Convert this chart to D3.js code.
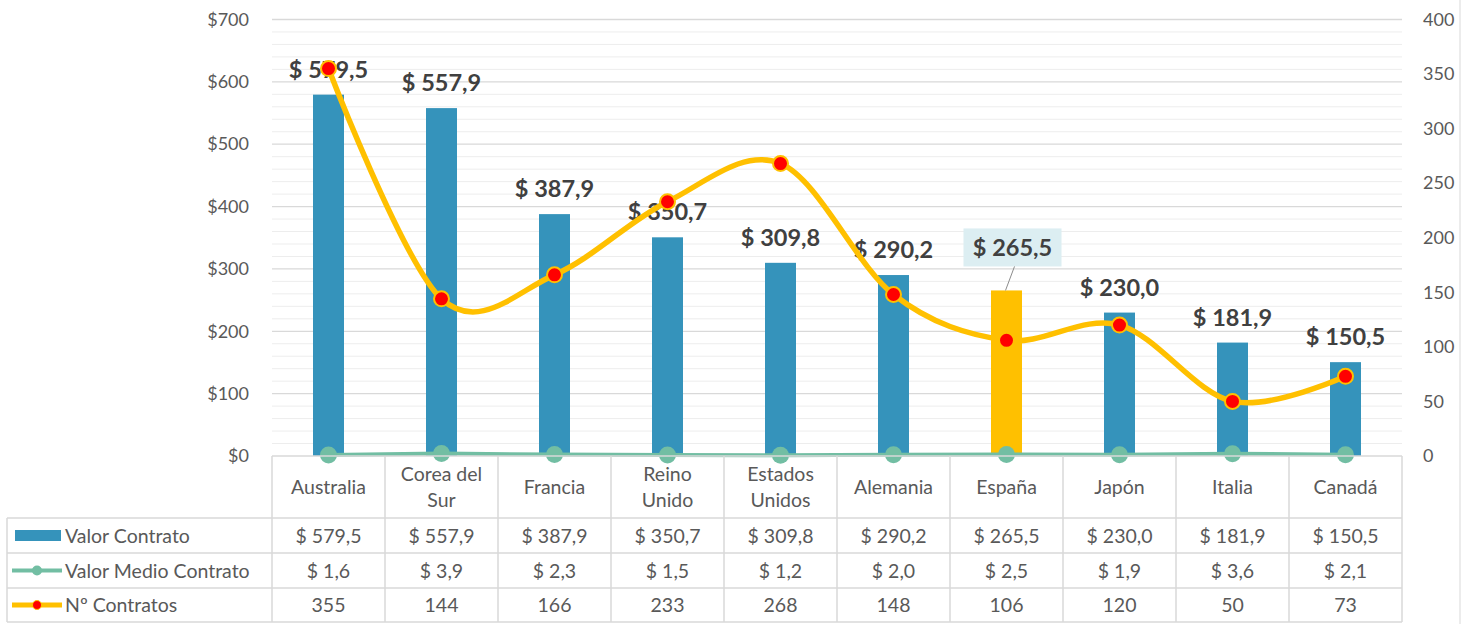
<!DOCTYPE html>
<html>
<head>
<meta charset="utf-8">
<script src="https://cdn.jsdelivr.net/npm/d3@7"></script>
<style>
  body { margin: 0; background: #fff; }
  svg text { font-family: Lato, "Open Sans", sans-serif; }
</style>
</head>
<body>
<svg id="chart" width="1466" height="624"></svg>
<script>
// ─── Data ──────────────────────────────────────────────────────────────────
const countries   = ["Australia", "Corea del Sur", "Francia", "Reino Unido", "Estados Unidos",
                     "Alemania", "España", "Japón", "Italia", "Canadá"];
const countryLines = [["Australia"], ["Corea del", "Sur"], ["Francia"], ["Reino", "Unido"],
                      ["Estados", "Unidos"], ["Alemania"], ["España"], ["Japón"], ["Italia"], ["Canadá"]];
const valorContrato = [579.5, 557.9, 387.9, 350.7, 309.8, 290.2, 265.5, 230.0, 181.9, 150.5];
const valorMedio    = [1.6, 3.9, 2.3, 1.5, 1.2, 2.0, 2.5, 1.9, 3.6, 2.1];
const numContratos  = [355, 144, 166, 233, 268, 148, 106, 120, 50, 73];
const leftTicks     = [0, 100, 200, 300, 400, 500, 600, 700];
const rightTicks    = [0, 50, 100, 150, 200, 250, 300, 350, 400];
const highlight     = "España";
const seriesNames   = ["Valor Contrato", "Valor Medio Contrato", "Nº Contratos"];

// ─── Layout ────────────────────────────────────────────────────────────────
const plot = { left: 272, right: 1402, top: 19.5, bottom: 456 };
const tableRows = [518, 553, 588, 622];   // bottom edges of table rows
const legendLeft = 7;

const blue   = "#3593BB";
const gold   = "#FFC000";
const teal   = "#72BEA3";
const grid   = "#d9d9d9";
const minor  = "#ededed";
const txt    = "#595959";
const tblFont = 19.5;

const fmt = v => "$ " + v.toFixed(1).replace(".", ",");

const svg = d3.select("#chart");

// ─── Scales ────────────────────────────────────────────────────────────────
const x = d3.scaleBand().domain(countries).range([plot.left, plot.right]);
const yL = d3.scaleLinear().domain([0, 700]).range([plot.bottom, plot.top]);
const yR = d3.scaleLinear().domain([0, 400]).range([plot.bottom, plot.top]);

// ─── Gridlines (minor every $20, major every $100) ─────────────────────────
svg.append("g")
  .selectAll("line")
  .data(d3.range(0, 701, 20).filter(v => v % 100 !== 0))
  .join("line")
    .attr("x1", plot.left).attr("x2", plot.right)
    .attr("y1", d => yL(d)).attr("y2", d => yL(d))
    .attr("stroke", minor).attr("stroke-width", 1);

svg.append("g")
  .selectAll("line")
  .data(leftTicks.filter(v => v > 0))
  .join("line")
    .attr("x1", plot.left).attr("x2", plot.right)
    .attr("y1", d => yL(d)).attr("y2", d => yL(d))
    .attr("stroke", grid).attr("stroke-width", 1.3);

// ─── Axes ──────────────────────────────────────────────────────────────────
const axL = svg.append("g")
  .attr("transform", `translate(${plot.left - 20},0)`)
  .call(d3.axisLeft(yL).tickValues(leftTicks).tickFormat(d => "$" + d).tickSize(0));
axL.select(".domain").remove();
axL.selectAll("text").attr("fill", txt).attr("font-size", 18).attr("font-family", "Lato");

const axR = svg.append("g")
  .attr("transform", `translate(${plot.right + 18},0)`)
  .call(d3.axisRight(yR).tickValues(rightTicks).tickSize(0));
axR.select(".domain").remove();
axR.selectAll("text").attr("fill", txt).attr("font-size", 18).attr("font-family", "Lato");

// outer border on the right
svg.append("line")
  .attr("x1", 1460).attr("x2", 1460).attr("y1", 0).attr("y2", 624)
  .attr("stroke", grid);

// ─── Bars ──────────────────────────────────────────────────────────────────
const barW = 31;
svg.append("g")
  .selectAll("rect")
  .data(countries)
  .join("rect")
    .attr("x", d => x(d) + x.bandwidth() / 2 - barW / 2)
    .attr("width", barW)
    .attr("y", (d, i) => yL(valorContrato[i]))
    .attr("height", (d, i) => plot.bottom - yL(valorContrato[i]))
    .attr("fill", d => d === highlight ? gold : blue);

// ─── Data labels ───────────────────────────────────────────────────────────
const hi = countries.indexOf(highlight);
const boxCx = x(highlight) + x.bandwidth() / 2 + 6;
const boxY = yL(valorContrato[hi]) - 62;
svg.append("rect")
  .attr("x", boxCx - 49).attr("y", boxY)
  .attr("width", 98).attr("height", 38)
  .attr("fill", "#DCEEF2");
svg.append("line")
  .attr("x1", boxCx + 2).attr("y1", boxY + 38)
  .attr("x2", x(highlight) + x.bandwidth() / 2 - 1).attr("y2", yL(valorContrato[hi]))
  .attr("stroke", "#8c8c8c").attr("stroke-width", 1);

svg.append("g")
  .selectAll("text")
  .data(countries)
  .join("text")
    .attr("x", (d, i) => d === highlight ? boxCx : x(d) + x.bandwidth() / 2)
    .attr("y", (d, i) => d === highlight ? boxY + 28 : yL(valorContrato[i]) - 17)
    .attr("text-anchor", "middle")
    .attr("font-size", 23.5)
    .attr("font-weight", "bold")
    .attr("fill", "#404040")
    .text((d, i) => fmt(valorContrato[i]));

// ─── Valor Medio Contrato line ─────────────────────────────────────────────
const cx = d => x(d) + x.bandwidth() / 2;
svg.append("path")
  .datum(countries)
  .attr("fill", "none")
  .attr("stroke", teal)
  .attr("stroke-width", 4)
  .attr("d", d3.line().x(cx).y((d, i) => yL(valorMedio[i])));
svg.append("g")
  .selectAll("circle")
  .data(countries)
  .join("circle")
    .attr("cx", cx)
    .attr("cy", (d, i) => yL(valorMedio[i]))
    .attr("r", 8.5)
    .attr("fill", teal);

// ─── Nº Contratos smooth line ──────────────────────────────────────────────
svg.append("path")
  .datum(countries)
  .attr("fill", "none")
  .attr("stroke", gold)
  .attr("stroke-width", 5.5)
  .attr("stroke-linecap", "round")
  .attr("d", d3.line().curve(d3.curveCardinal).x(cx).y((d, i) => yR(numContratos[i])));
svg.append("g")
  .selectAll("circle")
  .data(countries)
  .join("circle")
    .attr("cx", cx)
    .attr("cy", (d, i) => yR(numContratos[i]))
    .attr("r", 7.5)
    .attr("fill", "#FF0000")
    .attr("stroke", gold)
    .attr("stroke-width", 2);

// x axis line
svg.append("line")
  .attr("x1", plot.left).attr("x2", plot.right)
  .attr("y1", plot.bottom).attr("y2", plot.bottom)
  .attr("stroke", grid).attr("stroke-width", 1.5);

// ─── Data table ────────────────────────────────────────────────────────────
const table = svg.append("g").attr("stroke", grid).attr("stroke-width", 1.5);
// horizontal lines
tableRows.forEach(yv => {
  table.append("line")
    .attr("x1", legendLeft).attr("x2", plot.right)
    .attr("y1", yv).attr("y2", yv);
});
// vertical column lines
countries.concat([null]).forEach(d => {
  const xv = d === null ? plot.right : x(d);
  table.append("line")
    .attr("x1", xv).attr("x2", xv)
    .attr("y1", plot.bottom).attr("y2", tableRows[3]);
});
table.append("line")
  .attr("x1", legendLeft).attr("x2", legendLeft)
  .attr("y1", tableRows[0]).attr("y2", tableRows[3]);

// category labels
const catG = svg.append("g");
countries.forEach((d, i) => {
  const lines = countryLines[i];
  const midY = (plot.bottom + tableRows[0]) / 2;
  const t = catG.append("text")
    .attr("x", cx(d))
    .attr("text-anchor", "middle")
    .attr("font-size", tblFont)
    .attr("fill", txt);
  lines.forEach((ln, j) => {
    t.append("tspan")
      .attr("x", cx(d))
      .attr("y", midY + 7 + (j - (lines.length - 1) / 2) * 26)
      .text(ln);
  });
});

// table values
const rowMid = [ (tableRows[0] + tableRows[1]) / 2, (tableRows[1] + tableRows[2]) / 2, (tableRows[2] + tableRows[3]) / 2 ];
const rowVals = [
  valorContrato.map(fmt),
  valorMedio.map(fmt),
  numContratos.map(String)
];
rowVals.forEach((vals, r) => {
  svg.append("g")
    .selectAll("text")
    .data(countries)
    .join("text")
      .attr("x", cx)
      .attr("y", rowMid[r] + 7)
      .attr("text-anchor", "middle")
      .attr("font-size", tblFont)
      .attr("fill", txt)
      .text((d, i) => vals[i]);
});

// legend keys
const lg = svg.append("g");
lg.append("rect")
  .attr("x", 15).attr("y", rowMid[0] - 5.5).attr("width", 46).attr("height", 11)
  .attr("fill", blue);
lg.append("line")
  .attr("x1", 12).attr("x2", 62).attr("y1", rowMid[1]).attr("y2", rowMid[1])
  .attr("stroke", teal).attr("stroke-width", 4);
lg.append("circle").attr("cx", 37).attr("cy", rowMid[1]).attr("r", 5).attr("fill", teal);
lg.append("line")
  .attr("x1", 12).attr("x2", 62).attr("y1", rowMid[2]).attr("y2", rowMid[2])
  .attr("stroke", gold).attr("stroke-width", 5);
lg.append("circle").attr("cx", 37).attr("cy", rowMid[2]).attr("r", 4.5)
  .attr("fill", "#FF0000").attr("stroke", gold).attr("stroke-width", 1);
seriesNames.forEach((name, r) => {
  lg.append("text")
    .attr("x", 65)
    .attr("y", rowMid[r] + 7)
    .attr("font-size", tblFont)
    .attr("fill", txt)
    .text(name);
});
</script>
</body>
</html>
